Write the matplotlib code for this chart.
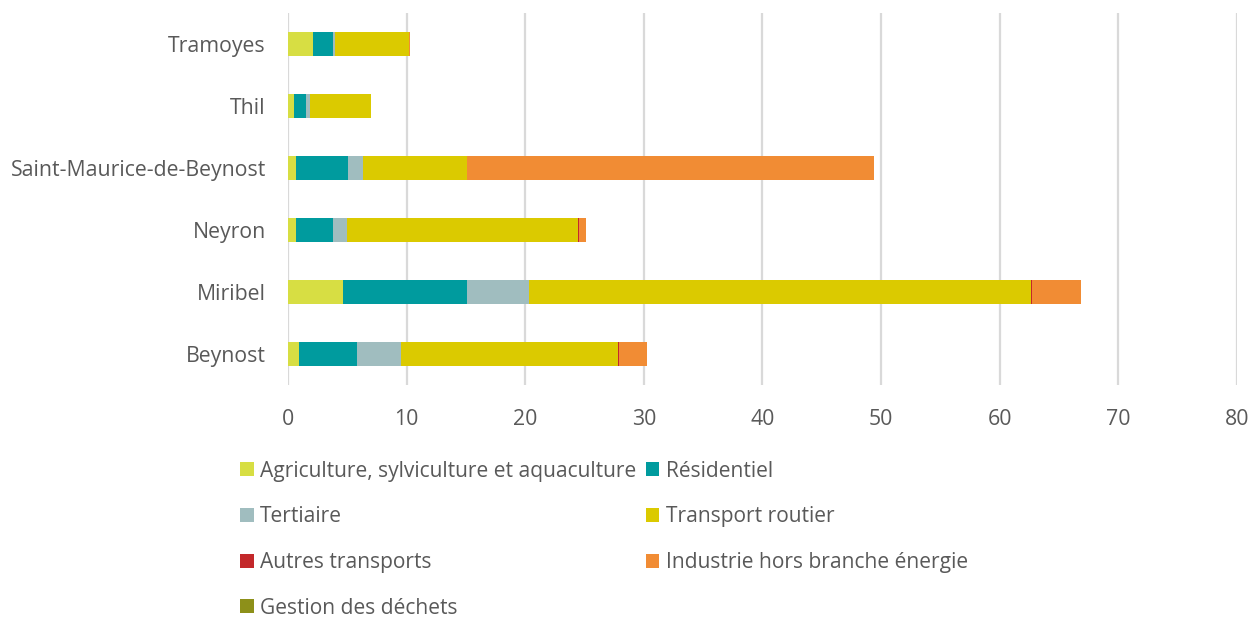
import numpy as np
import matplotlib
matplotlib.use('Agg')
import matplotlib.pyplot as plt


communes = ['Beynost', 'Miribel', 'Neyron', 'Saint-Maurice-de-Beynost', 'Thil', 'Tramoyes']

sectors = [
    'Agriculture, sylviculture et aquaculture',
    'Résidentiel',
    'Tertiaire',
    'Transport routier',
    'Autres transports',
    'Industrie hors branche énergie',
    'Gestion des déchets',
]

sector_colors = ['#D7DE43', '#009B9E', '#A0BDBF', '#DBCA00', '#C3282A', '#F18C34', '#8D9019']

# values per commune, same order as communes
agriculture = [0.93, 4.61, 0.68, 0.68, 0.54, 2.12]
residentiel = [4.89, 10.49, 3.12, 4.40, 1.01, 1.64]
tertiaire = [3.74, 5.21, 1.20, 1.28, 0.26, 0.19]
transport_routier = [18.26, 42.3, 19.45, 8.75, 5.19, 6.25]
autres_transports = [0.12, 0.15, 0.06, 0.02, 0.0, 0.0]
industrie = [2.36, 4.09, 0.6, 34.31, 0.0, 0.05]
dechets = [0.0, 0.0, 0.0, 0.0, 0.0, 0.0]

series = [agriculture, residentiel, tertiaire, transport_routier,
          autres_transports, industrie, dechets]

x_ticks = [0, 10, 20, 30, 40, 50, 60, 70, 80]

plt.rcParams['font.family'] = ['Open Sans', 'DejaVu Sans']
text_color = '#595959'

fig = plt.figure(figsize=(12.6, 6.17), dpi=100)
ax = fig.add_axes([0.2286, 0.376, 0.7531, 0.603])

y = np.arange(len(communes))
left = np.zeros(len(communes))
for name, values, color in zip(sectors, series, sector_colors):
    values = np.array(values)
    ax.barh(y, values, left=left, height=0.4, color=color, label=name, linewidth=0)
    left += values

ax.set_xlim(0, 80)
ax.set_ylim(-0.5, len(communes) - 0.5)
ax.set_xticks(x_ticks)
ax.set_yticks(y)
ax.set_yticklabels(communes)
ax.tick_params(axis='both', length=0, labelsize=15.3, colors=text_color)
ax.tick_params(axis='x', pad=17)
ax.tick_params(axis='y', pad=16)
for s in ax.spines.values():
    s.set_visible(False)
ax.grid(axis='x', color='#D9D9D9', linewidth=1.6)
ax.set_axisbelow(True)

handles, labels = ax.get_legend_handles_labels()
# matplotlib fills legend columns first, reorder to read row by row
order = [0, 2, 4, 6, 1, 3, 5]
leg = fig.legend([handles[i] for i in order], [labels[i] for i in order],
                 ncol=2, loc='upper left', bbox_to_anchor=(0.1905, 0.2535),
                 frameon=False, fontsize=15.1, handlelength=0.65, handleheight=0.65,
                 handletextpad=0.3, columnspacing=0.45, labelspacing=1.18,
                 borderaxespad=0, borderpad=0)
for t in leg.get_texts():
    t.set_color(text_color)

fig.savefig('out.png', dpi=100)
